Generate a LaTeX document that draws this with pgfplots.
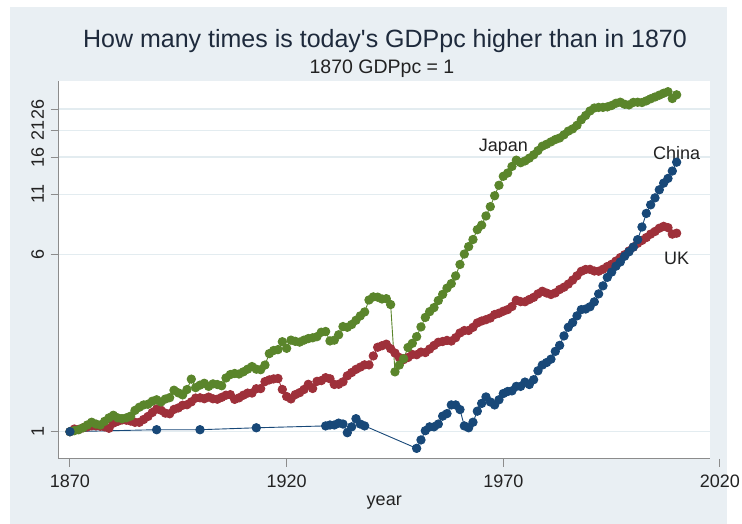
\documentclass[border=0pt]{standalone}
\usepackage{fontspec}
\setmainfont{Liberation Sans}
\usepackage{pgfplots}
\usepackage{pgfplotstable}
\pgfplotsset{compat=1.18}
\definecolor{bgc}{HTML}{E9EFF3}
\definecolor{gridc}{HTML}{E3ECF0}
\definecolor{axc}{HTML}{8C8C8C}
\definecolor{titc}{HTML}{1E2A3C}
\definecolor{txtc}{HTML}{222222}
\definecolor{ukc}{HTML}{9E303A}
\definecolor{jpc}{HTML}{5A852B}
\definecolor{cnc}{HTML}{184878}
\newcommand\lbl{\fontsize{18}{18}\selectfont}

% GDP per capita relative to 1870 (1870 = 1)
\pgfplotstableread{
year r
1870 1.000
1871 1.027
1872 1.023
1873 1.040
1874 1.049
1875 1.061
1876 1.060
1877 1.056
1878 1.050
1879 1.035
1880 1.090
1881 1.110
1882 1.125
1883 1.123
1884 1.113
1885 1.099
1886 1.099
1887 1.131
1888 1.166
1889 1.214
1890 1.257
1891 1.242
1892 1.206
1893 1.198
1894 1.252
1895 1.271
1896 1.306
1897 1.313
1898 1.351
1899 1.404
1900 1.408
1901 1.395
1902 1.418
1903 1.394
1904 1.388
1905 1.414
1906 1.445
1907 1.453
1908 1.386
1909 1.407
1910 1.445
1911 1.476
1912 1.477
1913 1.543
1914 1.545
1915 1.658
1916 1.687
1917 1.704
1918 1.711
1919 1.532
1920 1.426
1921 1.392
1922 1.454
1923 1.483
1924 1.531
1925 1.613
1926 1.547
1927 1.662
1928 1.675
1929 1.725
1930 1.706
1931 1.611
1932 1.614
1933 1.654
1934 1.758
1935 1.817
1936 1.876
1937 1.920
1938 1.964
1939 1.963
1940 2.149
1941 2.345
1942 2.382
1943 2.419
1944 2.312
1945 2.212
1946 2.115
1947 2.070
1948 2.115
1949 2.181
1950 2.175
1951 2.233
1952 2.223
1953 2.303
1954 2.388
1955 2.466
1956 2.486
1957 2.513
1958 2.497
1959 2.583
1960 2.710
1961 2.776
1962 2.779
1963 2.868
1964 2.999
1965 3.057
1966 3.099
1967 3.150
1968 3.263
1969 3.308
1970 3.375
1971 3.430
1972 3.540
1973 3.770
1974 3.718
1975 3.714
1976 3.798
1977 3.882
1978 4.021
1979 4.128
1980 4.054
1981 3.996
1982 4.061
1983 4.202
1984 4.301
1985 4.440
1986 4.621
1987 4.825
1988 5.050
1989 5.145
1990 5.150
1991 5.065
1992 5.055
1993 5.156
1994 5.300
1995 5.420
1996 5.600
1997 5.800
1998 5.970
1999 6.200
2000 6.450
2001 6.700
2002 6.900
2003 7.100
2004 7.350
2005 7.550
2006 7.800
2007 7.950
2008 7.850
2009 7.350
2010 7.420
}\uk

\pgfplotstableread{
year r
1870 1.00
1871 1.01
1872 1.02
1873 1.04
1874 1.07
1875 1.10
1876 1.08
1877 1.07
1878 1.11
1879 1.15
1880 1.18
1881 1.15
1882 1.14
1883 1.15
1884 1.17
1885 1.24
1886 1.28
1887 1.31
1888 1.32
1889 1.36
1890 1.38
1891 1.35
1892 1.39
1893 1.41
1894 1.52
1895 1.48
1896 1.45
1897 1.53
1898 1.70
1899 1.56
1900 1.60
1901 1.63
1902 1.58
1903 1.62
1904 1.61
1905 1.59
1906 1.72
1907 1.78
1908 1.80
1909 1.79
1910 1.83
1911 1.88
1912 1.93
1913 1.88
1914 1.87
1915 1.96
1916 2.20
1917 2.27
1918 2.29
1919 2.48
1920 2.32
1921 2.52
1922 2.49
1923 2.47
1924 2.52
1925 2.56
1926 2.58
1927 2.61
1928 2.73
1929 2.75
1930 2.50
1931 2.52
1932 2.66
1933 2.89
1934 2.87
1935 2.95
1936 3.08
1937 3.22
1938 3.35
1939 3.78
1940 3.90
1941 3.89
1942 3.82
1943 3.83
1944 3.61
1945 1.83
1946 1.96
1947 2.09
1948 2.34
1949 2.44
1950 2.61
1951 2.88
1952 3.17
1953 3.36
1954 3.50
1955 3.76
1956 4.00
1957 4.26
1958 4.46
1959 4.82
1960 5.41
1961 6.01
1962 6.48
1963 6.96
1964 7.69
1965 8.05
1966 8.83
1967 9.70
1968 10.83
1969 12.04
1970 13.18
1971 13.62
1972 14.56
1973 15.51
1974 15.12
1975 15.39
1976 15.83
1977 16.37
1978 17.08
1979 17.86
1980 18.22
1981 18.66
1982 19.10
1983 19.41
1984 20.04
1985 20.80
1986 21.27
1987 22.05
1988 23.32
1989 24.35
1990 25.49
1991 26.26
1992 26.43
1993 26.43
1994 26.56
1995 26.94
1996 27.55
1997 27.85
1998 27.27
1999 27.10
2000 27.79
2001 27.84
2002 27.76
2003 28.23
2004 28.82
2005 29.35
2006 29.90
2007 30.49
2008 30.96
2009 28.90
2010 30.00
}\jp

\pgfplotstableread{
year r
1870 1.00
1890 1.02
1900 1.02
1913 1.04
1929 1.06
1930 1.07
1931 1.07
1932 1.09
1933 1.08
1934 0.99
1935 1.05
1936 1.14
1937 1.08
1938 1.06
1950 0.845
1951 0.92
1952 1.01
1953 1.05
1954 1.05
1955 1.08
1956 1.17
1957 1.20
1958 1.31
1959 1.31
1960 1.25
1961 1.06
1962 1.04
1963 1.10
1964 1.23
1965 1.33
1966 1.42
1967 1.35
1968 1.31
1969 1.38
1970 1.47
1971 1.50
1972 1.51
1973 1.58
1974 1.58
1975 1.65
1976 1.61
1977 1.69
1978 1.85
1979 1.96
1980 2.01
1981 2.08
1982 2.25
1983 2.39
1984 2.63
1985 2.87
1986 3.01
1987 3.22
1988 3.43
1989 3.45
1990 3.53
1991 3.71
1992 4.02
1993 4.36
1994 4.75
1995 5.01
1996 5.32
1997 5.55
1998 5.88
1999 6.15
2000 6.45
2001 6.95
2002 7.90
2003 9.06
2004 9.88
2005 10.60
2006 11.50
2007 12.30
2008 12.90
2009 13.90
2010 15.20
}\cn

\begin{document}
\begin{tikzpicture}
\fill[white] (0,0) rectangle (742pt,524pt);
\fill[bgc] (10pt,0pt) rectangle (727pt,517pt);
\node[font=\fontsize{25}{25}\selectfont, text=titc] at (385pt,483pt)
  {How many times is today\textquotesingle s GDPpc higher than in 1870};
\node[font=\fontsize{19.5}{19.5}\selectfont, text=txtc] at (382pt,455pt) {1870 GDPpc = 1};
\begin{axis}[
    at={(58.5pt,65pt)}, anchor=south west,
    scale only axis, width=651.5pt, height=378pt,
    ymode=log,
    xmin=1867.35, xmax=2017.7,
    ymin=0.759, ymax=34.5,
    axis x line*=bottom, axis y line*=left,
    axis line style={axc, line width=1pt, -},
    axis background/.style={fill=white},
    xtick={1870,1920,1970}, xticklabels={1870,1920,1970},
    ytick={1,6,11,16,21,26}, yticklabels={1,6,11,16,21,26},
    xminorticks=false, yminorticks=false,
    tick align=outside, major tick length=8pt,
    tick style={axc, line width=1pt},
    ymajorgrids, grid style={gridc, line width=1.2pt},
    ticklabel style={font=\lbl, text=txtc},
    xticklabel style={yshift=-4pt},
    yticklabel style={xshift=-3pt, rotate=90, anchor=south},
    xlabel={year}, xlabel style={font=\lbl, text=txtc, yshift=-2pt},
    clip=false,
  ]
  \addplot[ukc, line width=0.9pt, mark=*, mark size=4.2pt] table[x=year, y=r] {\uk};
  \addplot[jpc, line width=0.9pt, mark=*, mark size=4.2pt] table[x=year, y=r] {\jp};
  \addplot[cnc, line width=0.9pt, mark=*, mark size=4.2pt] table[x=year, y=r] {\cn};
  \node[font=\lbl, text=txtc] at (axis cs:1970,17.6) {Japan};
  \node[font=\lbl, text=txtc] at (axis cs:2010,16.7) {China};
  \node[font=\lbl, text=txtc] at (axis cs:2010,5.78) {UK};
  \coordinate (t2020) at (axis cs:2020,0.759);
\end{axis}
% the 2020 tick stands just outside the plot region
\draw[axc, line width=1pt] (t2020) -- ++(0,-8pt)
  node[below, font=\lbl, text=txtc, yshift=-4pt] {2020};
\pgfresetboundingbox
\path (0,0) rectangle (742pt,524pt);
\end{tikzpicture}
\end{document}
